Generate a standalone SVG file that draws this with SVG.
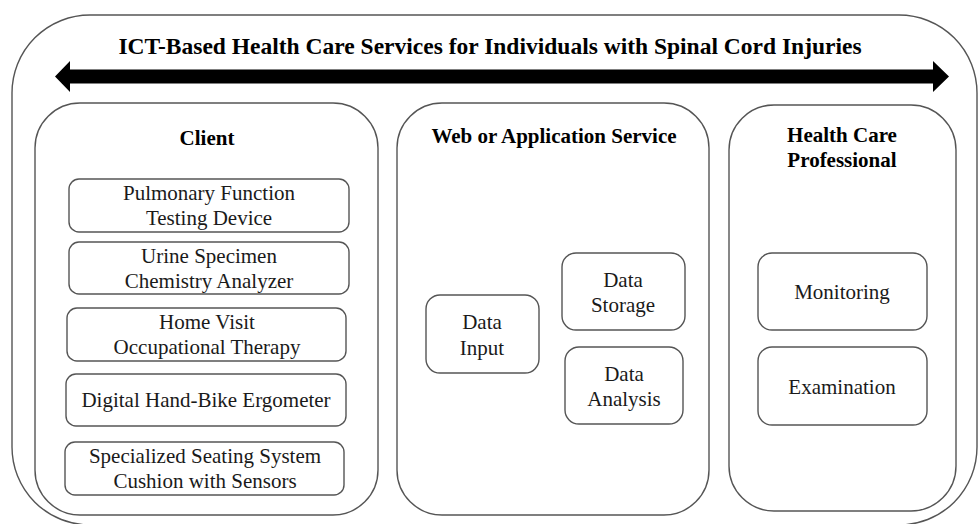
<svg xmlns="http://www.w3.org/2000/svg" width="979" height="524" viewBox="0 0 979 524" font-family="'Liberation Serif', 'DejaVu Serif', serif">
<style>
.frame{fill:none;stroke:#555;stroke-width:1.4}
.box{fill:#fff;stroke:#555;stroke-width:1.4}
.t{font-family:'Liberation Serif','DejaVu Serif',serif;font-size:21px;fill:#1a1a1a;text-anchor:middle}
.b{font-weight:bold;fill:#000}
.title{font-family:'Liberation Serif','DejaVu Serif',serif;font-size:23.5px;font-weight:bold;fill:#000;text-anchor:middle}
</style>
<rect width="979" height="524" fill="#fff"/>
<g id="outer">
<rect class="frame" x="12" y="15" width="965" height="510" rx="78" ry="78"/>
<text class="title" x="490" y="54">ICT-Based Health Care Services for Individuals with Spinal Cord Injuries</text>
</g>
<g id="connectors">
<polygon fill="#000" points="55,76.5 70,61 70,69.5 933,69.5 933,61 949,76.5 933,92 933,83.5 70,83.5 70,92"/>
</g>
<g id="client">
<rect class="frame" x="35" y="103" width="343" height="412" rx="45" ry="45"/>
<text class="t b" x="207" y="145">Client</text>
</g>
<g id="pulmonary">
<rect class="box" x="69" y="179" width="280" height="53" rx="10"/>
<text class="t" x="209" y="200">Pulmonary Function</text>
<text class="t" x="209" y="225">Testing Device</text>
</g>
<g id="urine">
<rect class="box" x="69" y="242" width="280" height="52" rx="10"/>
<text class="t" x="209" y="263">Urine Specimen</text>
<text class="t" x="209" y="288">Chemistry Analyzer</text>
</g>
<g id="homevisit">
<rect class="box" x="67" y="308" width="279" height="53" rx="10"/>
<text class="t" x="207" y="329">Home Visit</text>
<text class="t" x="207" y="354">Occupational Therapy</text>
</g>
<g id="handbike">
<rect class="box" x="66" y="374" width="280" height="52" rx="10"/>
<text class="t" x="206" y="407">Digital Hand-Bike Ergometer</text>
</g>
<g id="seating">
<rect class="box" x="65" y="442" width="279" height="53" rx="10"/>
<text class="t" x="205" y="463">Specialized Seating System</text>
<text class="t" x="205" y="488">Cushion with Sensors</text>
</g>
<g id="web">
<rect class="frame" x="397" y="103" width="312" height="412" rx="45" ry="45"/>
<text class="t b" x="554" y="143">Web or Application Service</text>
</g>
<g id="datainput">
<rect class="box" x="426" y="295" width="113" height="78" rx="14"/>
<text class="t" x="482" y="329">Data</text>
<text class="t" x="482" y="355">Input</text>
</g>
<g id="datastorage">
<rect class="box" x="562" y="253" width="123" height="77" rx="14"/>
<text class="t" x="623" y="287">Data</text>
<text class="t" x="623" y="312">Storage</text>
</g>
<g id="dataanalysis">
<rect class="box" x="565" y="347" width="118" height="77" rx="14"/>
<text class="t" x="624" y="381">Data</text>
<text class="t" x="624" y="406">Analysis</text>
</g>
<g id="hcp">
<rect class="frame" x="729" y="105" width="227" height="406" rx="45" ry="45"/>
<text class="t b" x="842" y="142">Health Care</text>
<text class="t b" x="842" y="167">Professional</text>
</g>
<g id="monitoring">
<rect class="box" x="758" y="253" width="169" height="77" rx="14"/>
<text class="t" x="842" y="299">Monitoring</text>
</g>
<g id="examination">
<rect class="box" x="758" y="347" width="169" height="78" rx="14"/>
<text class="t" x="842" y="394">Examination</text>
</g>
</svg>
